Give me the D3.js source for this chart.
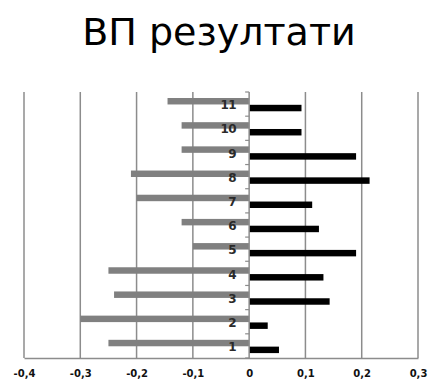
<!DOCTYPE html>
<html>
<head>
<meta charset="utf-8">
<script src="https://cdn.jsdelivr.net/npm/d3@7/dist/d3.min.js"></script>
<style>
  html, body { margin: 0; padding: 0; background: #fff; }
  svg { display: block; }
</style>
</head>
<body>
<svg id="chart" width="432" height="383"></svg>
<script>
// Category labels (bottom to top) and the two series
const categories = ["1", "2", "3", "4", "5", "6", "7", "8", "9", "10", "11"];
const negativeSeries = [-0.25, -0.30, -0.24, -0.25, -0.10, -0.12, -0.20, -0.21, -0.12, -0.12, -0.145];
const positiveSeries = [0.053, 0.033, 0.143, 0.132, 0.19, 0.124, 0.112, 0.214, 0.19, 0.093, 0.093];
const xTicks = [-0.4, -0.3, -0.2, -0.1, 0, 0.1, 0.2, 0.3];
const title = "ВП резултати";

const svg = d3.select("#chart");
const plot = { left: 24, right: 418, top: 92, bottom: 358 };
const font = "DejaVu Sans, Verdana, sans-serif";

const x = d3.scaleLinear().domain([-0.4, 0.3]).range([plot.left, plot.right]);
// Category 1 at the bottom
const y = d3.scaleBand().domain(categories.slice().reverse())
  .range([plot.top, plot.bottom]).paddingInner(0).paddingOuter(0);
const inner = d3.scaleBand().domain(["neg", "pos"])
  .range([0, y.bandwidth()]).paddingInner(0.05).paddingOuter(0.8).align(0.55);

// Title
svg.append("text")
  .attr("x", 219).attr("y", 45)
  .attr("text-anchor", "middle")
  .attr("font-family", font)
  .attr("font-size", 38)
  .attr("fill", "#000")
  .text(title);

// Vertical gridlines
svg.append("g").selectAll("line").data(xTicks.filter(d => d !== 0)).join("line")
  .attr("x1", d => x(d)).attr("x2", d => x(d))
  .attr("y1", plot.top).attr("y2", plot.bottom)
  .attr("stroke", "#8c8c8c").attr("stroke-width", 1.5);

// Bottom axis: decimal comma, plain hyphen for negatives
const fmt = d => (d === 0 ? "0" : d.toFixed(1)).replace(".", ",");
const xAxis = d3.axisBottom(x).tickValues(xTicks).tickSize(0).tickFormat(fmt);
const gx = svg.append("g").attr("transform", `translate(0,${plot.bottom})`).call(xAxis);
gx.select(".domain").attr("stroke", "#8c8c8c").attr("stroke-width", 1.5);
gx.selectAll("text")
  .attr("dy", 0).attr("y", 19)
  .attr("font-family", font)
  .attr("font-size", 10).attr("font-weight", "bold")
  .attr("fill", "#111");

// Bars
const bars = svg.append("g");
bars.selectAll("rect.neg").data(categories).join("rect")
  .attr("class", "neg")
  .attr("x", (c, i) => x(negativeSeries[i]))
  .attr("width", (c, i) => x(0) - x(negativeSeries[i]))
  .attr("y", c => y(c) + inner("neg"))
  .attr("height", inner.bandwidth())
  .attr("fill", "#808080");
bars.selectAll("rect.pos").data(categories).join("rect")
  .attr("class", "pos")
  .attr("x", x(0))
  .attr("width", (c, i) => x(positiveSeries[i]) - x(0))
  .attr("y", c => y(c) + inner("pos"))
  .attr("height", inner.bandwidth())
  .attr("fill", "#000");

// Vertical category axis at zero
const gy = svg.append("g").attr("transform", `translate(${x(0)},0)`);
gy.append("line")
  .attr("y1", plot.top).attr("y2", plot.bottom)
  .attr("stroke", "#8c8c8c").attr("stroke-width", 1.5);
const edges = categories.map(c => y(c)).concat([plot.bottom]);
gy.selectAll("line.tick").data(edges).join("line")
  .attr("class", "tick")
  .attr("x1", -4).attr("x2", 0)
  .attr("y1", d => d).attr("y2", d => d)
  .attr("stroke", "#8c8c8c").attr("stroke-width", 1.2);
gy.selectAll("text").data(categories).join("text")
  .attr("x", -13)
  .attr("y", c => y(c) + y.bandwidth() / 2 + 1)
  .attr("dy", "0.35em")
  .attr("text-anchor", "end")
  .attr("font-family", font)
  .attr("font-size", 12)
  .attr("font-weight", "bold")
  .attr("letter-spacing", -0.5)
  .attr("fill", "#2a2a2a")
  .text(c => c);
</script>
</body>
</html>
